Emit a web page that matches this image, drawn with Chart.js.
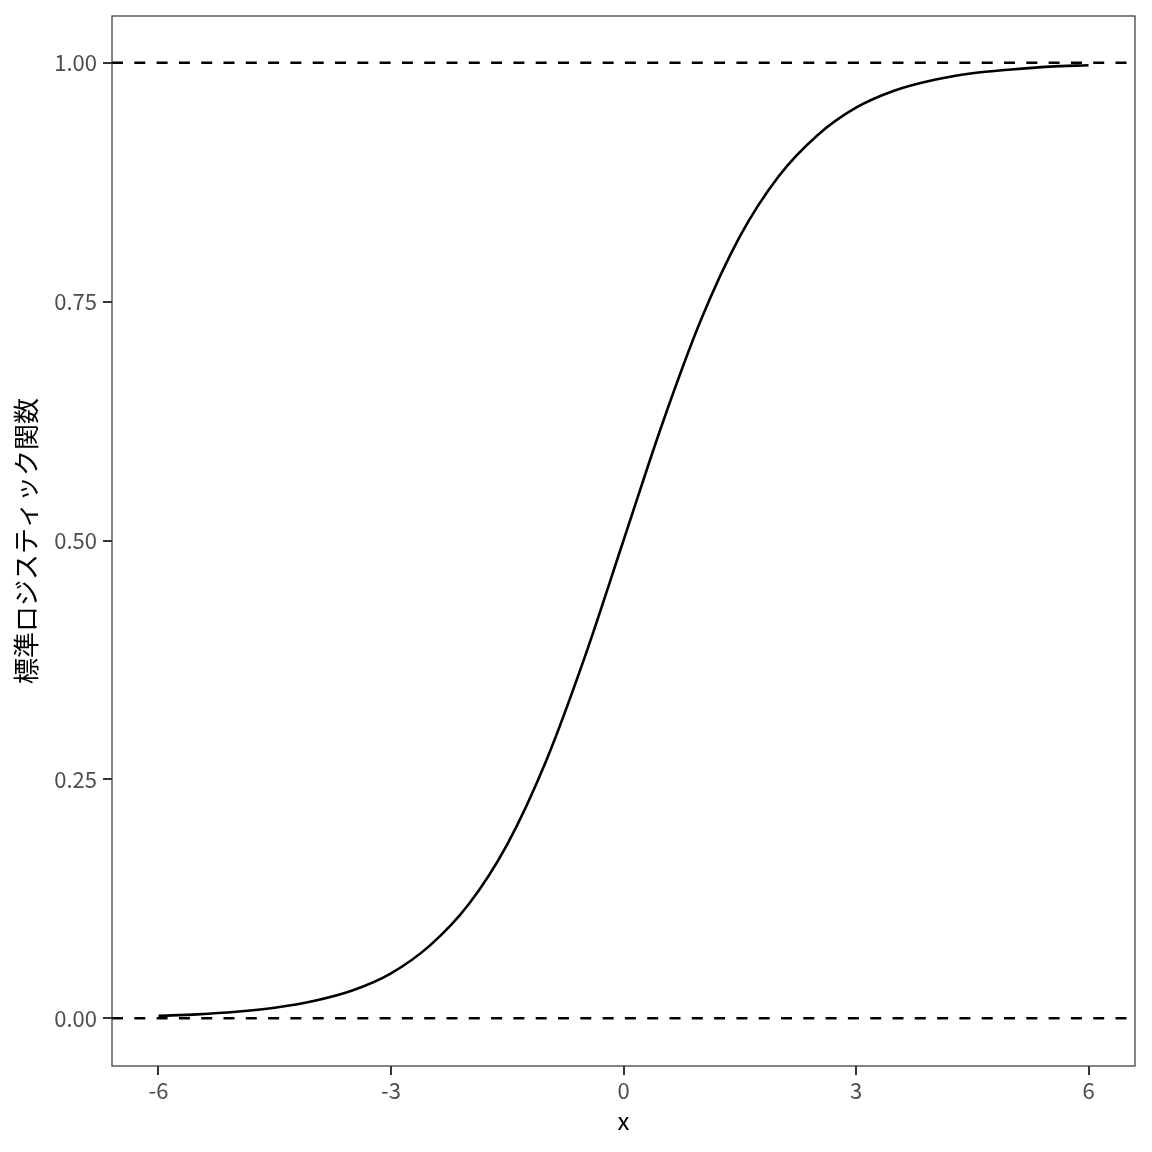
<!DOCTYPE html>
<html>
<head>
<meta charset="utf-8">
<script src="https://cdn.jsdelivr.net/npm/chart.js@4/dist/chart.umd.min.js"></script>
<style>
html,body{margin:0;padding:0;background:#fff;}
#wrap{width:1152px;height:1152px;}
</style>
</head>
<body>
<div id="wrap"><canvas id="c" width="1152" height="1152"></canvas></div>
<script>
// Values
const xValues = [-6,-5.5,-5,-4.5,-4,-3.5,-3,-2.5,-2,-1.5,-1,-0.5,0,0.5,1,1.5,2,2.5,3,3.5,4,4.5,5,5.5,6];
const yValues = [0.0025,0.004,0.0067,0.011,0.018,0.029,0.047,0.076,0.119,0.182,0.269,0.378,0.5,0.622,0.731,0.818,0.881,0.924,0.953,0.971,0.982,0.989,0.993,0.996,0.9975];
const refLines = [0, 1];
const xTicks = [-6,-3,0,3,6];
const yTicks = [0,0.25,0.5,0.75,1];
const xTitle = "x";
const yTitle = "標準ロジスティック関数";

const xMin = -6.6, xMax = 6.6;

const curve = xValues.map((x,i)=>({x:x,y:yValues[i]}));
const datasets = [{
  data: curve, borderColor:'#000', borderWidth:2.6, pointRadius:0, cubicInterpolationMode:'monotone', fill:false
}];
refLines.forEach(v=>{
  datasets.push({data:[{x:xMin,y:v},{x:xMax,y:v}], borderColor:'#000', borderWidth:2.6, borderDash:[11,11.3], pointRadius:0, fill:false});
});

const borderPlugin = {
  id:'panelBorder',
  afterDatasetsDraw(chart){
    const {ctx, chartArea:a} = chart;
    ctx.save();
    ctx.strokeStyle='#333333';
    ctx.lineWidth=1.2;
    ctx.strokeRect(a.left, a.top, a.right-a.left, a.bottom-a.top);
    ctx.restore();
  }
};

const fam = "'Noto Sans CJK JP', 'Noto Sans', sans-serif";
const tickFont = {family:fam, size:22};

new Chart(document.getElementById('c'), {
  type:'line',
  data:{datasets},
  plugins:[borderPlugin],
  options:{
    responsive:false, animation:false,
    layout:{padding:{top:16,right:17,left:0,bottom:0}},
    plugins:{legend:{display:false}, tooltip:{enabled:false}},
    scales:{
      x:{
        type:'linear', min:xMin, max:xMax,
        afterBuildTicks(s){ s.ticks = xTicks.map(v=>({value:v})); },
        afterFit(s){ s.height = 86; s.paddingLeft = 0; s.paddingRight = 0; },
        ticks:{color:'#4d4d4d', font:tickFont, padding:2, maxRotation:0, callback:(v)=>String(v)},
        grid:{display:true, drawOnChartArea:false, drawTicks:true, tickLength:9, color:'#333333', lineWidth:2},
        border:{display:false},
        title:{display:true, text:xTitle, color:'#000', font:{family:fam, size:24}, padding:{top:0,bottom:17}}
      },
      y:{
        type:'linear', min:-0.05, max:1.049,
        afterBuildTicks(s){ s.ticks = yTicks.map(v=>({value:v})); },
        afterFit(s){ s.width = 112; s.paddingTop = 0; s.paddingBottom = 0; },
        ticks:{color:'#4d4d4d', font:tickFont, padding:6, callback:(v)=>Number(v).toFixed(2)},
        grid:{display:true, drawOnChartArea:false, drawTicks:true, tickLength:9, color:'#333333', lineWidth:2},
        border:{display:false},
        title:{display:true, text:yTitle, color:'#000', font:{family:fam, size:26}, padding:{top:11,bottom:0}}
      }
    }
  }
});
</script>
</body>
</html>
